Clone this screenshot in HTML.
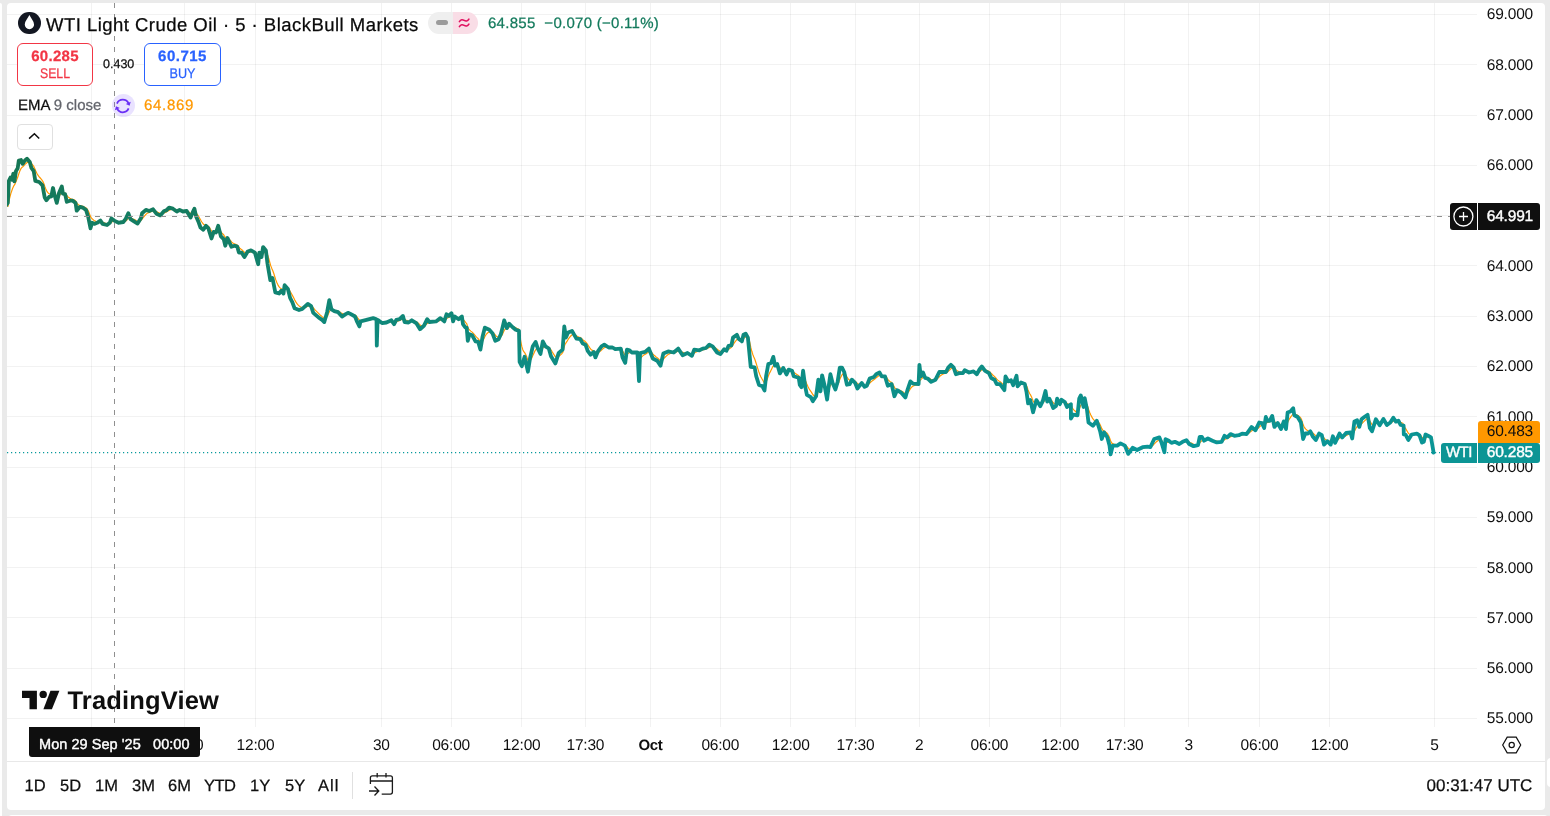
<!DOCTYPE html>
<html><head><meta charset="utf-8">
<style>
*{box-sizing:border-box;margin:0;padding:0}
html,body{width:1550px;height:816px;overflow:hidden;background:#eaeaea;font-family:"Liberation Sans", Arial, sans-serif;color:#0f0f0f}
#root{position:absolute;left:0;top:0;width:1550px;height:816px;will-change:transform;text-rendering:geometricPrecision}
.sk{-webkit-text-stroke:0.25px currentColor}
.sk2{-webkit-text-stroke:0.4px currentColor}
.abs{position:absolute}
#lstrip{position:absolute;left:0;top:3px;width:2px;height:813px;background:#fff;border-top-right-radius:2px}
#panel{position:absolute;left:7px;top:3px;width:1538px;height:806.5px;background:#fff;border-radius:4px;overflow:hidden}
#bpanel{position:absolute;left:8px;top:814.7px;width:1540px;height:10px;background:#fff;border-radius:4px}
#rnub{position:absolute;left:1547px;top:758px;width:8px;height:29px;background:#fff;border-radius:4px}
svg.chart{position:absolute;left:0;top:0}
.g{stroke:rgba(0,0,0,0.052);stroke-width:1}
.pl{position:absolute;left:1478px;width:55px;text-align:right;font-size:15.5px;letter-spacing:-0.2px;line-height:18px;height:18px;color:#0f0f0f}
.tl{position:absolute;top:736.5px;width:80px;text-align:center;font-size:15.5px;letter-spacing:-0.2px;line-height:18px;color:#0f0f0f}
.tl.b{font-weight:bold;font-size:15px;letter-spacing:-0.3px}
.tbi{position:absolute;top:0}
#sep{position:absolute;left:7px;top:761px;width:1538px;height:1px;background:#e8e8e8}
</style></head><body><div id="root">
<div id="lstrip"></div>
<div id="panel"></div>
<div id="bpanel"></div>
<div id="rnub"></div>
<svg class="chart" width="1550" height="816" viewBox="0 0 1550 816">
<defs><clipPath id="pane"><rect x="7" y="3" width="1470" height="724"/></clipPath><linearGradient id="lg" gradientUnits="userSpaceOnUse" x1="0" y1="160" x2="0" y2="455"><stop offset="0" stop-color="#167654"/><stop offset="1" stop-color="#0a9698"/></linearGradient></defs>
<line x1="7" y1="718.5" x2="1477" y2="718.5" class="g"/>
<line x1="7" y1="668.5" x2="1477" y2="668.5" class="g"/>
<line x1="7" y1="617.5" x2="1477" y2="617.5" class="g"/>
<line x1="7" y1="567.5" x2="1477" y2="567.5" class="g"/>
<line x1="7" y1="517.5" x2="1477" y2="517.5" class="g"/>
<line x1="7" y1="467.5" x2="1477" y2="467.5" class="g"/>
<line x1="7" y1="416.5" x2="1477" y2="416.5" class="g"/>
<line x1="7" y1="366.5" x2="1477" y2="366.5" class="g"/>
<line x1="7" y1="316.5" x2="1477" y2="316.5" class="g"/>
<line x1="7" y1="265.5" x2="1477" y2="265.5" class="g"/>
<line x1="7" y1="215.5" x2="1477" y2="215.5" class="g"/>
<line x1="7" y1="165.5" x2="1477" y2="165.5" class="g"/>
<line x1="7" y1="115.5" x2="1477" y2="115.5" class="g"/>
<line x1="7" y1="64.5" x2="1477" y2="64.5" class="g"/>
<line x1="7" y1="14.5" x2="1477" y2="14.5" class="g"/>
<line x1="91.5" y1="3" x2="91.5" y2="727" class="g"/>
<line x1="184.5" y1="3" x2="184.5" y2="727" class="g"/>
<line x1="255.5" y1="3" x2="255.5" y2="727" class="g"/>
<line x1="381.5" y1="3" x2="381.5" y2="727" class="g"/>
<line x1="451.5" y1="3" x2="451.5" y2="727" class="g"/>
<line x1="521.5" y1="3" x2="521.5" y2="727" class="g"/>
<line x1="585.5" y1="3" x2="585.5" y2="727" class="g"/>
<line x1="650.5" y1="3" x2="650.5" y2="727" class="g"/>
<line x1="720.5" y1="3" x2="720.5" y2="727" class="g"/>
<line x1="790.5" y1="3" x2="790.5" y2="727" class="g"/>
<line x1="855.5" y1="3" x2="855.5" y2="727" class="g"/>
<line x1="919.5" y1="3" x2="919.5" y2="727" class="g"/>
<line x1="989.5" y1="3" x2="989.5" y2="727" class="g"/>
<line x1="1060.5" y1="3" x2="1060.5" y2="727" class="g"/>
<line x1="1124.5" y1="3" x2="1124.5" y2="727" class="g"/>
<line x1="1188.5" y1="3" x2="1188.5" y2="727" class="g"/>
<line x1="1259.5" y1="3" x2="1259.5" y2="727" class="g"/>
<line x1="1329.5" y1="3" x2="1329.5" y2="727" class="g"/>
<line x1="1434.5" y1="3" x2="1434.5" y2="727" class="g"/>
<line x1="7" y1="452.7" x2="1440" y2="452.7" stroke="#089a9c" stroke-width="1.2" stroke-dasharray="1.2 2.8"/>
<g clip-path="url(#pane)">
<path d="M7.8,207.0 L8.8,202.2 L9.8,197.5 L10.8,193.6 L11.8,190.8 L12.8,187.9 L13.8,185.8 L14.8,184.4 L15.8,182.0 L16.8,179.5 L17.8,177.1 L18.8,173.8 L19.8,171.1 L20.8,168.9 L21.8,167.5 L22.8,166.7 L23.8,165.8 L24.8,164.7 L25.8,163.7 L26.8,162.8 L27.8,162.2 L28.8,161.9 L29.8,162.0 L30.8,162.7 L31.8,163.9 L32.8,165.1 L33.8,166.4 L34.8,168.7 L35.8,171.1 L36.8,173.2 L37.8,174.9 L38.8,176.3 L39.8,177.5 L40.8,178.7 L41.8,179.9 L42.8,181.3 L43.8,183.5 L44.8,186.4 L45.8,188.9 L46.8,191.1 L47.8,192.6 L48.8,193.5 L49.8,194.1 L50.8,194.6 L51.8,194.5 L52.8,193.4 L53.8,193.0 L54.8,193.6 L55.8,194.7 L56.8,196.4 L57.8,196.8 L58.8,196.2 L59.8,195.2 L60.8,193.9 L61.8,192.4 L62.8,192.5 L63.8,192.8 L64.8,193.0 L65.8,193.9 L66.8,195.5 L67.8,196.7 L68.8,197.6 L69.8,198.2 L70.8,198.7 L71.8,199.1 L72.8,199.4 L73.8,199.8 L74.8,200.3 L75.8,201.1 L76.8,203.0 L77.8,204.3 L78.8,205.1 L79.8,205.5 L80.8,205.8 L81.8,206.1 L82.8,206.4 L83.8,206.8 L84.8,207.3 L85.8,207.8 L86.8,208.7 L87.8,210.1 L88.8,212.0 L89.8,214.6 L90.8,217.1 L91.8,218.5 L92.8,219.4 L93.8,220.3 L94.8,220.9 L95.8,221.4 L96.8,221.7 L97.8,221.8 L98.8,221.8 L99.8,221.6 L100.8,221.6 L101.8,221.8 L102.8,222.2 L103.8,222.6 L104.8,223.0 L105.8,223.3 L106.8,223.6 L107.8,223.8 L108.8,223.8 L109.8,223.6 L110.8,222.9 L111.8,222.0 L112.8,221.5 L113.8,221.3 L114.8,221.2 L115.8,221.2 L116.8,221.4 L117.8,221.6 L118.8,221.8 L119.8,222.0 L120.8,222.0 L121.8,222.1 L122.8,222.1 L123.8,221.9 L124.8,221.6 L125.8,221.0 L126.8,220.1 L127.8,218.9 L128.8,218.0 L129.8,217.9 L130.8,218.2 L131.8,218.6 L132.8,219.0 L133.8,219.4 L134.8,219.9 L135.8,220.4 L136.8,221.0 L137.8,221.4 L138.8,221.5 L139.8,221.2 L140.8,220.6 L141.8,219.4 L142.8,218.1 L143.8,216.8 L144.8,215.6 L145.8,214.5 L146.8,213.6 L147.8,213.0 L148.8,212.6 L149.8,212.2 L150.8,211.8 L151.8,211.4 L152.8,211.0 L153.8,210.9 L154.8,211.0 L155.8,211.4 L156.8,211.9 L157.8,212.4 L158.8,212.8 L159.8,213.3 L160.8,213.6 L161.8,213.6 L162.8,213.4 L163.8,213.0 L164.8,212.6 L165.8,212.2 L166.8,211.7 L167.8,211.1 L168.8,210.5 L169.8,210.0 L170.8,209.6 L171.8,209.3 L172.8,209.2 L173.8,209.2 L174.8,209.4 L175.8,209.7 L176.8,210.0 L177.8,210.2 L178.8,210.2 L179.8,210.2 L180.8,210.3 L181.8,210.4 L182.8,210.6 L183.8,210.8 L184.8,210.9 L185.8,210.9 L186.8,211.0 L187.8,211.3 L188.8,212.0 L189.8,212.8 L190.8,213.7 L191.8,213.9 L192.8,213.5 L193.8,212.8 L194.8,212.4 L195.8,212.9 L196.8,213.9 L197.8,215.2 L198.8,216.7 L199.8,218.5 L200.8,220.3 L201.8,222.0 L202.8,223.4 L203.8,224.5 L204.8,225.1 L205.8,225.3 L206.8,225.6 L207.8,226.0 L208.8,226.8 L209.8,228.0 L210.8,229.7 L211.8,231.3 L212.8,231.9 L213.8,231.9 L214.8,232.0 L215.8,232.1 L216.8,231.7 L217.8,230.7 L218.8,230.2 L219.8,230.6 L220.8,231.6 L221.8,232.8 L222.8,233.8 L223.8,235.0 L224.8,236.7 L225.8,238.2 L226.8,238.6 L227.8,238.6 L228.8,239.1 L229.8,239.9 L230.8,241.0 L231.8,242.1 L232.8,243.0 L233.8,243.6 L234.8,244.0 L235.8,244.4 L236.8,244.8 L237.8,245.6 L238.8,246.9 L239.8,248.1 L240.8,249.0 L241.8,249.8 L242.8,250.7 L243.8,251.8 L244.8,252.7 L245.8,253.1 L246.8,253.1 L247.8,252.8 L248.8,252.4 L249.8,252.1 L250.8,251.8 L251.8,251.6 L252.8,251.6 L253.8,251.6 L254.8,251.8 L255.8,252.6 L256.8,253.9 L257.8,255.7 L258.8,256.1 L259.8,255.6 L260.8,255.6 L261.8,255.6 L262.8,254.2 L263.8,253.0 L264.8,252.2 L265.8,251.8 L266.8,253.0 L267.8,255.5 L268.8,258.7 L269.8,262.4 L270.8,265.9 L271.8,268.4 L272.8,270.7 L273.8,273.5 L274.8,276.7 L275.8,279.9 L276.8,282.5 L277.8,284.6 L278.8,286.4 L279.8,287.6 L280.8,288.4 L281.8,289.0 L282.8,289.7 L283.8,290.0 L284.8,289.1 L285.8,288.6 L286.8,288.4 L287.8,288.5 L288.8,289.3 L289.8,290.8 L290.8,292.5 L291.8,294.2 L292.8,296.1 L293.8,298.1 L294.8,300.1 L295.8,301.9 L296.8,303.3 L297.8,304.6 L298.8,305.6 L299.8,306.5 L300.8,307.0 L301.8,307.4 L302.8,307.6 L303.8,307.6 L304.8,307.4 L305.8,307.1 L306.8,306.6 L307.8,306.1 L308.8,305.8 L309.8,305.7 L310.8,305.7 L311.8,306.2 L312.8,307.2 L313.8,308.4 L314.8,309.6 L315.8,310.7 L316.8,311.7 L317.8,312.7 L318.8,313.7 L319.8,314.7 L320.8,315.5 L321.8,316.4 L322.8,317.2 L323.8,318.1 L324.8,318.5 L325.8,318.2 L326.8,317.2 L327.8,315.4 L328.8,312.9 L329.8,310.8 L330.8,309.9 L331.8,309.8 L332.8,309.9 L333.8,310.1 L334.8,310.3 L335.8,310.6 L336.8,310.8 L337.8,311.1 L338.8,311.5 L339.8,312.0 L340.8,312.6 L341.8,313.4 L342.8,313.9 L343.8,314.2 L344.8,314.3 L345.8,314.3 L346.8,314.1 L347.8,313.9 L348.8,313.7 L349.8,313.7 L350.8,313.8 L351.8,314.0 L352.8,314.2 L353.8,314.6 L354.8,314.9 L355.8,315.6 L356.8,316.7 L357.8,318.0 L358.8,319.4 L359.8,320.5 L360.8,320.6 L361.8,320.7 L362.8,320.7 L363.8,320.7 L364.8,320.6 L365.8,320.5 L366.8,320.3 L367.8,320.2 L368.8,320.0 L369.8,319.8 L370.8,319.6 L371.8,319.3 L372.8,319.1 L373.8,318.9 L374.8,318.9 L375.8,318.9 L376.8,324.3 L377.8,323.4 L378.8,322.9 L379.8,322.6 L380.8,322.5 L381.8,322.6 L382.8,322.7 L383.8,322.7 L384.8,322.7 L385.8,322.7 L386.8,322.6 L387.8,322.5 L388.8,322.3 L389.8,322.0 L390.8,321.7 L391.8,321.6 L392.8,321.7 L393.8,322.1 L394.8,322.3 L395.8,322.0 L396.8,321.5 L397.8,321.1 L398.8,320.8 L399.8,320.4 L400.8,319.9 L401.8,319.3 L402.8,318.7 L403.8,318.8 L404.8,319.4 L405.8,320.0 L406.8,320.4 L407.8,320.8 L408.8,321.1 L409.8,321.2 L410.8,321.2 L411.8,321.0 L412.8,321.0 L413.8,321.1 L414.8,321.3 L415.8,321.6 L416.8,322.1 L417.8,322.8 L418.8,323.7 L419.8,324.7 L420.8,325.5 L421.8,325.9 L422.8,326.1 L423.8,326.1 L424.8,325.6 L425.8,324.9 L426.8,323.9 L427.8,323.1 L428.8,322.8 L429.8,322.6 L430.8,322.5 L431.8,322.3 L432.8,322.2 L433.8,322.1 L434.8,322.0 L435.8,321.9 L436.8,321.6 L437.8,321.3 L438.8,320.9 L439.8,320.4 L440.8,320.0 L441.8,319.9 L442.8,319.9 L443.8,320.1 L444.8,320.1 L445.8,319.4 L446.8,318.4 L447.8,317.8 L448.8,317.4 L449.8,316.9 L450.8,316.3 L451.8,316.0 L452.8,316.7 L453.8,317.3 L454.8,317.1 L455.8,317.1 L456.8,317.3 L457.8,317.6 L458.8,317.9 L459.8,317.9 L460.8,317.8 L461.8,317.6 L462.8,318.6 L463.8,320.0 L464.8,321.3 L465.8,322.6 L466.8,323.8 L467.8,327.2 L468.8,329.1 L469.8,330.2 L470.8,331.1 L471.8,331.9 L472.8,332.8 L473.8,333.9 L474.8,335.1 L475.8,336.4 L476.8,337.4 L477.8,338.3 L478.8,339.5 L479.8,341.1 L480.8,342.3 L481.8,342.1 L482.8,340.8 L483.8,339.0 L484.8,336.8 L485.8,335.0 L486.8,333.7 L487.8,332.8 L488.8,332.2 L489.8,331.8 L490.8,331.7 L491.8,331.9 L492.8,332.4 L493.8,333.3 L494.8,334.5 L495.8,335.7 L496.8,336.6 L497.8,337.2 L498.8,337.5 L499.8,337.3 L500.8,336.7 L501.8,335.4 L502.8,333.6 L503.8,331.3 L504.8,329.5 L505.8,328.6 L506.8,328.4 L507.8,328.0 L508.8,327.2 L509.8,326.7 L510.8,326.4 L511.8,326.4 L512.8,326.6 L513.8,326.9 L514.8,327.3 L515.8,327.8 L516.8,328.3 L517.8,328.7 L518.8,329.2 L519.8,335.8 L520.8,341.5 L521.8,346.4 L522.8,349.7 L523.8,351.7 L524.8,352.9 L525.8,354.7 L526.8,357.1 L527.8,360.0 L528.8,361.2 L529.8,360.9 L530.8,359.7 L531.8,357.9 L532.8,355.6 L533.8,353.4 L534.8,351.3 L535.8,349.6 L536.8,348.8 L537.8,348.7 L538.8,349.1 L539.8,349.8 L540.8,350.3 L541.8,349.6 L542.8,348.0 L543.8,347.0 L544.8,346.6 L545.8,346.6 L546.8,346.7 L547.8,346.9 L548.8,347.2 L549.8,348.2 L550.8,349.7 L551.8,351.2 L552.8,352.8 L553.8,354.4 L554.8,356.0 L555.8,357.2 L556.8,357.6 L557.8,357.2 L558.8,356.3 L559.8,355.5 L560.8,354.6 L561.8,353.7 L562.8,352.4 L563.8,348.5 L564.8,344.8 L565.8,343.2 L566.8,341.7 L567.8,340.0 L568.8,338.4 L569.8,337.1 L570.8,336.0 L571.8,335.0 L572.8,334.4 L573.8,334.4 L574.8,334.6 L575.8,335.2 L576.8,335.9 L577.8,336.5 L578.8,337.0 L579.8,337.4 L580.8,337.9 L581.8,338.7 L582.8,339.7 L583.8,340.6 L584.8,341.3 L585.8,342.2 L586.8,343.4 L587.8,344.9 L588.8,346.4 L589.8,347.9 L590.8,349.2 L591.8,350.1 L592.8,350.6 L593.8,350.9 L594.8,351.8 L595.8,352.7 L596.8,353.0 L597.8,352.7 L598.8,352.2 L599.8,351.5 L600.8,350.7 L601.8,349.8 L602.8,348.9 L603.8,348.1 L604.8,347.5 L605.8,347.1 L606.8,347.0 L607.8,347.0 L608.8,347.1 L609.8,347.2 L610.8,347.2 L611.8,347.3 L612.8,347.4 L613.8,347.5 L614.8,347.8 L615.8,348.1 L616.8,348.3 L617.8,348.4 L618.8,348.5 L619.8,348.5 L620.8,348.5 L621.8,349.6 L622.8,351.3 L623.8,353.0 L624.8,354.8 L625.8,355.5 L626.8,354.5 L627.8,353.6 L628.8,352.9 L629.8,352.4 L630.8,352.2 L631.8,352.3 L632.8,352.3 L633.8,352.4 L634.8,352.4 L635.8,352.4 L636.8,352.4 L637.8,353.9 L638.8,358.6 L639.8,359.0 L640.8,357.8 L641.8,356.8 L642.8,355.9 L643.8,355.1 L644.8,354.5 L645.8,353.9 L646.8,353.2 L647.8,352.5 L648.8,351.7 L649.8,351.5 L650.8,351.9 L651.8,352.7 L652.8,353.9 L653.8,354.9 L654.8,355.8 L655.8,356.7 L656.8,357.4 L657.8,358.3 L658.8,359.2 L659.8,360.3 L660.8,361.1 L661.8,360.9 L662.8,359.9 L663.8,358.6 L664.8,357.5 L665.8,356.5 L666.8,355.6 L667.8,354.8 L668.8,354.1 L669.8,353.6 L670.8,353.3 L671.8,353.1 L672.8,352.9 L673.8,352.8 L674.8,352.6 L675.8,352.2 L676.8,351.7 L677.8,351.2 L678.8,350.8 L679.8,350.9 L680.8,351.2 L681.8,351.8 L682.8,352.4 L683.8,352.9 L684.8,353.1 L685.8,353.3 L686.8,353.3 L687.8,353.3 L688.8,353.4 L689.8,353.6 L690.8,353.9 L691.8,354.3 L692.8,354.1 L693.8,353.4 L694.8,352.7 L695.8,352.1 L696.8,351.7 L697.8,351.4 L698.8,351.2 L699.8,350.9 L700.8,350.7 L701.8,350.3 L702.8,350.0 L703.8,349.7 L704.8,349.4 L705.8,349.1 L706.8,348.7 L707.8,348.2 L708.8,347.6 L709.8,347.1 L710.8,346.8 L711.8,346.6 L712.8,346.6 L713.8,346.9 L714.8,347.4 L715.8,348.1 L716.8,348.9 L717.8,349.7 L718.8,350.4 L719.8,351.1 L720.8,351.6 L721.8,351.7 L722.8,351.6 L723.8,351.2 L724.8,350.9 L725.8,350.8 L726.8,350.6 L727.8,350.0 L728.8,349.2 L729.8,348.4 L730.8,347.8 L731.8,346.9 L732.8,345.3 L733.8,343.6 L734.8,342.2 L735.8,340.8 L736.8,339.6 L737.8,339.1 L738.8,339.0 L739.8,339.2 L740.8,339.4 L741.8,339.8 L742.8,339.4 L743.8,338.4 L744.8,337.6 L745.8,336.8 L746.8,336.6 L747.8,336.8 L748.8,338.8 L749.8,342.5 L750.8,347.4 L751.8,351.3 L752.8,354.5 L753.8,357.0 L754.8,359.3 L755.8,362.3 L756.8,365.4 L757.8,368.6 L758.8,371.7 L759.8,374.4 L760.8,376.7 L761.8,378.5 L762.8,380.2 L763.8,382.0 L764.8,383.2 L765.8,382.3 L766.8,380.3 L767.8,377.6 L768.8,374.8 L769.8,372.6 L770.8,370.7 L771.8,368.7 L772.8,366.6 L773.8,365.2 L774.8,365.1 L775.8,365.1 L776.8,364.9 L777.8,365.2 L778.8,366.0 L779.8,367.4 L780.8,368.3 L781.8,368.7 L782.8,368.7 L783.8,368.8 L784.8,369.2 L785.8,370.0 L786.8,370.8 L787.8,370.9 L788.8,370.7 L789.8,370.5 L790.8,370.5 L791.8,370.5 L792.8,371.0 L793.8,372.1 L794.8,373.0 L795.8,373.7 L796.8,374.4 L797.8,375.1 L798.8,375.7 L799.8,377.6 L800.8,379.3 L801.8,380.1 L802.8,378.8 L803.8,378.3 L804.8,379.3 L805.8,381.4 L806.8,384.0 L807.8,386.3 L808.8,388.2 L809.8,389.9 L810.8,391.3 L811.8,392.9 L812.8,394.5 L813.8,395.6 L814.8,396.1 L815.8,396.2 L816.8,395.2 L817.8,392.8 L818.8,390.7 L819.8,390.1 L820.8,389.7 L821.8,387.4 L822.8,385.6 L823.8,384.9 L824.8,385.3 L825.8,386.7 L826.8,389.0 L827.8,389.9 L828.8,389.1 L829.8,386.9 L830.8,384.7 L831.8,383.7 L832.8,383.7 L833.8,384.1 L834.8,384.9 L835.8,385.6 L836.8,385.4 L837.8,384.4 L838.8,382.4 L839.8,379.4 L840.8,377.1 L841.8,375.2 L842.8,374.0 L843.8,373.4 L844.8,373.7 L845.8,374.9 L846.8,376.7 L847.8,378.3 L848.8,379.5 L849.8,380.4 L850.8,380.7 L851.8,380.5 L852.8,380.5 L853.8,380.8 L854.8,381.1 L855.8,381.8 L856.8,382.8 L857.8,383.9 L858.8,384.4 L859.8,384.6 L860.8,384.6 L861.8,384.2 L862.8,384.3 L863.8,384.6 L864.8,385.0 L865.8,385.3 L866.8,385.4 L867.8,385.0 L868.8,384.1 L869.8,383.0 L870.8,382.0 L871.8,381.2 L872.8,380.4 L873.8,379.7 L874.8,379.0 L875.8,378.1 L876.8,377.3 L877.8,376.5 L878.8,375.8 L879.8,375.2 L880.8,375.1 L881.8,375.4 L882.8,375.6 L883.8,375.8 L884.8,375.9 L885.8,376.5 L886.8,377.7 L887.8,379.3 L888.8,380.5 L889.8,381.4 L890.8,382.0 L891.8,382.6 L892.8,383.9 L893.8,385.9 L894.8,387.8 L895.8,388.8 L896.8,389.2 L897.8,389.5 L898.8,389.9 L899.8,390.3 L900.8,390.7 L901.8,391.2 L902.8,391.8 L903.8,392.6 L904.8,393.4 L905.8,393.9 L906.8,393.6 L907.8,392.7 L908.8,391.4 L909.8,389.7 L910.8,388.1 L911.8,387.0 L912.8,386.3 L913.8,385.8 L914.8,385.4 L915.8,385.1 L916.8,384.8 L917.8,384.7 L918.8,383.6 L919.8,380.5 L920.8,379.7 L921.8,378.7 L922.8,377.5 L923.8,376.9 L924.8,376.9 L925.8,377.2 L926.8,377.4 L927.8,377.6 L928.8,378.0 L929.8,378.5 L930.8,379.2 L931.8,379.6 L932.8,379.9 L933.8,380.0 L934.8,380.0 L935.8,379.9 L936.8,379.3 L937.8,378.4 L938.8,377.4 L939.8,376.3 L940.8,375.4 L941.8,374.7 L942.8,374.2 L943.8,373.8 L944.8,373.4 L945.8,373.1 L946.8,372.6 L947.8,371.7 L948.8,370.8 L949.8,369.8 L950.8,368.8 L951.8,368.2 L952.8,367.9 L953.8,367.9 L954.8,368.5 L955.8,369.6 L956.8,370.4 L957.8,371.1 L958.8,371.5 L959.8,371.8 L960.8,372.1 L961.8,372.3 L962.8,372.4 L963.8,372.3 L964.8,371.9 L965.8,371.7 L966.8,371.6 L967.8,371.7 L968.8,371.8 L969.8,371.9 L970.8,371.9 L971.8,371.9 L972.8,371.9 L973.8,371.8 L974.8,372.0 L975.8,372.2 L976.8,372.6 L977.8,372.6 L978.8,372.2 L979.8,371.5 L980.8,370.8 L981.8,369.9 L982.8,369.5 L983.8,369.4 L984.8,369.7 L985.8,370.0 L986.8,370.4 L987.8,370.8 L988.8,371.2 L989.8,371.9 L990.8,373.0 L991.8,374.0 L992.8,375.0 L993.8,375.9 L994.8,376.8 L995.8,377.9 L996.8,379.1 L997.8,380.1 L998.8,380.9 L999.8,381.5 L1000.8,382.3 L1001.8,383.1 L1002.8,384.1 L1003.8,385.2 L1004.8,385.2 L1005.8,383.5 L1006.8,382.6 L1007.8,382.1 L1008.8,382.0 L1009.8,381.7 L1010.8,381.5 L1011.8,381.6 L1012.8,382.1 L1013.8,382.4 L1014.8,382.0 L1015.8,381.2 L1016.8,380.7 L1017.8,381.8 L1018.8,382.4 L1019.8,382.7 L1020.8,382.7 L1021.8,382.7 L1022.8,382.8 L1023.8,383.0 L1024.8,383.2 L1025.8,384.3 L1026.8,386.2 L1027.8,389.2 L1028.8,391.9 L1029.8,393.7 L1030.8,395.4 L1031.8,397.6 L1032.8,400.3 L1033.8,402.1 L1034.8,402.9 L1035.8,402.8 L1036.8,402.4 L1037.8,402.4 L1038.8,402.7 L1039.8,403.2 L1040.8,403.6 L1041.8,403.5 L1042.8,403.0 L1043.8,401.8 L1044.8,400.2 L1045.8,398.7 L1046.8,398.8 L1047.8,399.2 L1048.8,399.2 L1049.8,399.3 L1050.8,399.9 L1051.8,400.8 L1052.8,402.1 L1053.8,403.2 L1054.8,403.9 L1055.8,404.4 L1056.8,403.6 L1057.8,402.9 L1058.8,402.7 L1059.8,403.0 L1060.8,402.7 L1061.8,402.2 L1062.8,401.9 L1063.8,401.8 L1064.8,401.8 L1065.8,402.3 L1066.8,403.2 L1067.8,403.8 L1068.8,404.2 L1069.8,404.3 L1070.8,404.3 L1071.8,406.9 L1072.8,408.5 L1073.8,409.8 L1074.8,410.8 L1075.8,411.7 L1076.8,412.4 L1077.8,412.4 L1078.8,410.4 L1079.8,407.8 L1080.8,405.3 L1081.8,404.2 L1082.8,404.1 L1083.8,404.3 L1084.8,403.2 L1085.8,403.3 L1086.8,404.4 L1087.8,406.8 L1088.8,410.0 L1089.8,412.7 L1090.8,415.0 L1091.8,416.9 L1092.8,418.7 L1093.8,419.9 L1094.8,420.5 L1095.8,420.9 L1096.8,420.8 L1097.8,421.5 L1098.8,422.6 L1099.8,424.1 L1100.8,426.2 L1101.8,428.7 L1102.8,430.2 L1103.8,430.8 L1104.8,431.3 L1105.8,432.1 L1106.8,433.0 L1107.8,434.2 L1108.8,436.0 L1109.8,438.4 L1110.8,441.4 L1111.8,443.1 L1112.8,443.6 L1113.8,444.0 L1114.8,444.3 L1115.8,444.6 L1116.8,444.8 L1117.8,444.9 L1118.8,444.8 L1119.8,444.6 L1120.8,444.4 L1121.8,444.3 L1122.8,444.4 L1123.8,444.5 L1124.8,444.7 L1125.8,445.3 L1126.8,446.4 L1127.8,447.7 L1128.8,448.7 L1129.8,449.3 L1130.8,449.5 L1131.8,449.4 L1132.8,449.1 L1133.8,449.0 L1134.8,448.9 L1135.8,449.0 L1136.8,449.2 L1137.8,449.3 L1138.8,449.3 L1139.8,449.1 L1140.8,448.9 L1141.8,448.7 L1142.8,448.4 L1143.8,448.1 L1144.8,447.9 L1145.8,447.7 L1146.8,447.5 L1147.8,447.3 L1148.8,447.3 L1149.8,447.2 L1150.8,447.0 L1151.8,446.4 L1152.8,445.5 L1153.8,444.4 L1154.8,443.3 L1155.8,442.3 L1156.8,441.5 L1157.8,440.8 L1158.8,440.1 L1159.8,439.8 L1160.8,440.0 L1161.8,440.7 L1162.8,442.0 L1163.8,443.6 L1164.8,444.4 L1165.8,443.4 L1166.8,442.6 L1167.8,442.2 L1168.8,441.9 L1169.8,441.8 L1170.8,441.9 L1171.8,442.1 L1172.8,442.2 L1173.8,442.2 L1174.8,442.1 L1175.8,442.1 L1176.8,442.3 L1177.8,442.5 L1178.8,442.7 L1179.8,442.9 L1180.8,442.9 L1181.8,442.8 L1182.8,442.6 L1183.8,442.3 L1184.8,442.0 L1185.8,441.7 L1186.8,441.5 L1187.8,441.6 L1188.8,442.0 L1189.8,442.5 L1190.8,442.9 L1191.8,443.4 L1192.8,443.9 L1193.8,444.3 L1194.8,444.6 L1195.8,444.8 L1196.8,445.0 L1197.8,445.0 L1198.8,444.2 L1199.8,442.8 L1200.8,441.6 L1201.8,440.7 L1202.8,440.2 L1203.8,440.2 L1204.8,440.2 L1205.8,440.1 L1206.8,439.9 L1207.8,439.7 L1208.8,439.5 L1209.8,439.5 L1210.8,439.6 L1211.8,439.7 L1212.8,440.0 L1213.8,440.2 L1214.8,440.5 L1215.8,440.8 L1216.8,441.1 L1217.8,441.4 L1218.8,441.5 L1219.8,441.6 L1220.8,441.7 L1221.8,441.7 L1222.8,441.2 L1223.8,440.4 L1224.8,439.5 L1225.8,438.9 L1226.8,438.6 L1227.8,438.2 L1228.8,437.7 L1229.8,437.2 L1230.8,436.6 L1231.8,436.2 L1232.8,436.0 L1233.8,435.9 L1234.8,435.9 L1235.8,435.8 L1236.8,435.7 L1237.8,435.7 L1238.8,435.6 L1239.8,435.4 L1240.8,435.2 L1241.8,434.9 L1242.8,434.6 L1243.8,434.5 L1244.8,434.4 L1245.8,434.3 L1246.8,434.2 L1247.8,433.8 L1248.8,433.2 L1249.8,432.4 L1250.8,431.5 L1251.8,430.7 L1252.8,430.2 L1253.8,429.9 L1254.8,429.9 L1255.8,429.8 L1256.8,429.3 L1257.8,428.5 L1258.8,427.5 L1259.8,426.5 L1260.8,425.8 L1261.8,425.2 L1262.8,425.2 L1263.8,425.6 L1264.8,425.2 L1265.8,423.6 L1266.8,422.7 L1267.8,422.4 L1268.8,422.1 L1269.8,421.8 L1270.8,421.2 L1271.8,420.3 L1272.8,420.0 L1273.8,420.8 L1274.8,421.9 L1275.8,422.6 L1276.8,422.9 L1277.8,422.9 L1278.8,423.4 L1279.8,424.1 L1280.8,425.0 L1281.8,425.4 L1282.8,425.1 L1283.8,424.4 L1284.8,424.5 L1285.8,425.3 L1286.8,424.4 L1287.8,422.0 L1288.8,420.0 L1289.8,418.4 L1290.8,416.9 L1291.8,415.5 L1292.8,414.1 L1293.8,413.7 L1294.8,414.1 L1295.8,414.5 L1296.8,414.9 L1297.8,415.4 L1298.8,416.1 L1299.8,417.0 L1300.8,418.1 L1301.8,420.3 L1302.8,423.6 L1303.8,426.3 L1304.8,428.0 L1305.8,429.1 L1306.8,430.0 L1307.8,430.7 L1308.8,431.1 L1309.8,431.2 L1310.8,431.5 L1311.8,432.0 L1312.8,432.9 L1313.8,433.9 L1314.8,434.9 L1315.8,435.9 L1316.8,436.4 L1317.8,436.3 L1318.8,435.9 L1319.8,435.5 L1320.8,435.3 L1321.8,435.3 L1322.8,436.1 L1323.8,437.6 L1324.8,438.9 L1325.8,439.7 L1326.8,440.1 L1327.8,440.4 L1328.8,440.8 L1329.8,441.4 L1330.8,442.0 L1331.8,441.7 L1332.8,440.7 L1333.8,440.3 L1334.8,440.7 L1335.8,440.8 L1336.8,440.5 L1337.8,439.8 L1338.8,438.9 L1339.8,437.9 L1340.8,437.4 L1341.8,437.3 L1342.8,437.2 L1343.8,436.8 L1344.8,436.4 L1345.8,435.8 L1346.8,435.2 L1347.8,434.7 L1348.8,434.3 L1349.8,433.9 L1350.8,433.8 L1351.8,434.5 L1352.8,434.4 L1353.8,432.7 L1354.8,430.4 L1355.8,428.5 L1356.8,426.9 L1357.8,426.0 L1358.8,425.9 L1359.8,425.7 L1360.8,424.9 L1361.8,423.7 L1362.8,422.6 L1363.8,421.6 L1364.8,420.6 L1365.8,419.7 L1366.8,418.8 L1367.8,418.2 L1368.8,419.0 L1369.8,420.8 L1370.8,422.5 L1371.8,424.2 L1372.8,425.1 L1373.8,425.3 L1374.8,424.7 L1375.8,423.7 L1376.8,423.1 L1377.8,422.9 L1378.8,423.1 L1379.8,423.5 L1380.8,423.5 L1381.8,423.1 L1382.8,422.5 L1383.8,421.9 L1384.8,421.8 L1385.8,422.1 L1386.8,422.6 L1387.8,423.0 L1388.8,423.1 L1389.8,423.1 L1390.8,422.8 L1391.8,422.2 L1392.8,421.5 L1393.8,420.9 L1394.8,420.7 L1395.8,420.9 L1396.8,420.9 L1397.8,420.9 L1398.8,421.0 L1399.8,421.5 L1400.8,422.2 L1401.8,422.8 L1402.8,423.3 L1403.8,425.6 L1404.8,427.4 L1405.8,428.9 L1406.8,430.6 L1407.8,432.3 L1408.8,433.6 L1409.8,434.4 L1410.8,434.7 L1411.8,434.7 L1412.8,434.6 L1413.8,434.5 L1414.8,434.4 L1415.8,434.3 L1416.8,434.1 L1417.8,434.2 L1418.8,434.3 L1419.8,434.7 L1420.8,435.6 L1421.8,436.8 L1422.8,437.9 L1423.8,438.7 L1424.8,438.5 L1425.8,437.7 L1426.8,437.2 L1427.8,436.9 L1428.8,436.7 L1429.8,436.7 L1430.8,436.9 L1431.8,437.9 L1432.8,439.9" fill="none" stroke="#ff9800" stroke-width="1.2" stroke-linejoin="round"/>
<path d="M4.5,207.5 L7.8,202.9 L8.9,180.9 L10.5,177.6 L12.2,179.8 L13.3,173.7 L14.4,181.4 L16.0,171.0 L17.7,168.2 L18.8,160.5 L21.0,160.0 L22.6,163.8 L24.9,160.5 L27.0,158.8 L29.8,162.1 L31.5,168.2 L33.7,171.0 L35.3,180.9 L39.2,182.0 L42.5,185.3 L44.7,197.4 L46.4,200.2 L49.1,196.9 L51.3,196.3 L53.0,188.0 L54.6,195.2 L56.8,202.9 L59.0,193.0 L61.8,186.4 L62.9,193.6 L65.1,194.1 L66.8,201.8 L70.1,200.7 L72.8,200.7 L75.6,202.9 L76.7,210.7 L80.0,206.8 L83.3,207.9 L86.1,210.1 L88.3,217.3 L90.5,228.3 L92.1,222.8 L94.3,223.9 L97.1,222.8 L100.4,220.6 L102.6,223.9 L107.0,225.0 L109.8,222.8 L111.4,218.4 L114.2,220.6 L118.6,222.8 L120.0,222.5 L123.3,222.0 L125.5,219.2 L128.3,213.2 L130.5,219.2 L133.2,220.9 L137.6,223.6 L141.0,218.1 L142.1,213.2 L145.9,209.9 L149.2,211.0 L153.1,209.3 L156.4,213.7 L160.3,215.4 L164.1,211.0 L166.3,210.4 L169.1,207.6 L172.9,208.7 L176.8,211.5 L179.6,209.9 L182.9,211.5 L186.7,211.0 L190.6,217.6 L192.8,212.1 L194.4,208.7 L196.1,216.5 L198.3,221.4 L200.5,227.5 L203.3,229.7 L206.0,225.8 L208.2,228.0 L211.5,238.5 L213.7,231.9 L216.0,232.5 L218.2,225.8 L220.9,236.3 L223.7,239.1 L225.3,245.7 L227.5,238.0 L231.4,246.8 L234.7,245.7 L237.2,246.6 L238.9,252.6 L241.6,252.6 L244.4,257.1 L247.7,251.5 L251.0,250.4 L254.9,252.6 L258.2,264.2 L259.3,252.6 L261.5,257.1 L263.1,247.1 L265.9,250.4 L267.5,263.7 L270.3,280.2 L272.5,278.0 L275.3,292.4 L279.1,293.5 L281.3,290.7 L283.5,293.5 L284.6,285.2 L287.9,289.0 L290.1,297.9 L292.4,302.3 L294.6,308.3 L299.0,310.0 L302.3,308.9 L307.8,303.9 L311.1,306.1 L313.3,312.8 L318.8,317.7 L322.1,319.9 L324.3,322.1 L327.1,312.2 L329.3,300.1 L331.5,309.4 L334.3,311.1 L338.1,312.2 L342.0,316.6 L345.3,314.4 L348.0,312.8 L350.0,313.7 L355.0,316.5 L357.2,322.0 L359.4,326.4 L360.5,321.4 L366.5,319.8 L373.2,318.1 L376.5,319.2 L376.8,345.7 L377.6,319.8 L382.0,323.1 L386.4,322.5 L391.4,320.3 L394.1,324.2 L396.3,319.8 L399.6,319.2 L402.9,315.9 L404.6,322.0 L408.5,322.5 L411.8,320.3 L416.2,323.1 L420.0,329.2 L423.9,325.8 L427.2,319.2 L429.4,322.0 L436.0,321.4 L440.4,318.1 L444.3,321.4 L446.5,314.3 L448.7,315.9 L451.5,313.2 L453.1,321.4 L454.8,316.5 L458.6,319.2 L461.9,316.5 L463.0,324.2 L465.3,327.5 L466.7,327.6 L467.8,340.8 L469.4,334.2 L472.2,335.3 L475.5,341.4 L478.2,341.9 L480.4,349.6 L482.6,336.4 L484.9,327.6 L489.3,329.8 L492.6,333.6 L495.3,340.8 L498.6,339.2 L500.8,334.2 L502.5,327.6 L504.2,320.4 L506.9,328.1 L509.1,323.7 L512.4,327.0 L515.7,329.8 L519.0,330.9 L519.6,361.8 L521.8,366.2 L524.6,356.8 L527.9,371.7 L530.1,357.9 L532.8,346.3 L535.6,341.9 L537.8,348.5 L540.5,354.0 L542.8,341.4 L545.5,346.3 L548.8,348.5 L551.0,356.2 L555.4,363.4 L558.7,352.9 L562.6,349.6 L564.3,326.5 L565.9,337.5 L568.1,332.5 L572.0,330.9 L576.4,338.6 L580.3,339.2 L582.8,343.6 L585.5,344.7 L587.7,350.8 L590.5,354.7 L593.8,351.9 L595.4,357.4 L598.2,350.8 L601.5,346.4 L604.3,344.7 L608.7,347.5 L612.5,347.5 L615.3,349.2 L620.8,348.6 L622.5,357.4 L625.2,362.9 L626.9,349.7 L629.6,350.3 L631.8,352.5 L637.4,352.5 L639.0,381.1 L640.1,353.0 L645.1,351.9 L648.9,348.6 L652.8,358.5 L657.2,360.7 L660.5,365.7 L663.3,353.6 L668.2,351.4 L673.7,352.5 L678.2,348.6 L682.6,355.2 L687.5,353.0 L691.9,355.8 L694.2,349.7 L699.4,350.3 L702.7,348.6 L706.0,348.0 L709.3,344.7 L712.6,346.4 L717.1,352.5 L720.4,354.1 L724.2,349.2 L726.4,350.8 L728.6,345.8 L731.4,345.3 L733.0,337.6 L736.9,334.8 L738.6,338.7 L741.9,341.4 L743.5,334.8 L745.7,333.7 L747.9,337.6 L749.6,355.2 L750.7,366.8 L754.6,367.4 L756.2,376.2 L759.0,385.0 L762.3,386.1 L764.5,390.5 L766.1,376.2 L768.3,364.0 L771.1,362.9 L773.3,356.9 L775.0,365.7 L777.2,364.0 L779.9,373.4 L783.2,367.9 L786.5,374.5 L788.7,369.6 L792.1,370.7 L793.7,376.2 L798.7,377.8 L799.8,385.0 L801.4,387.2 L803.1,370.7 L805.3,387.2 L806.9,394.9 L810.8,397.1 L812.8,401.2 L816.1,396.2 L818.3,379.7 L820.5,391.3 L822.1,375.3 L824.3,384.1 L827.1,399.6 L828.7,386.3 L830.4,374.2 L832.6,383.0 L835.4,389.6 L837.6,381.9 L839.8,367.6 L842.0,367.6 L844.2,372.0 L846.9,384.7 L849.7,384.1 L851.9,379.7 L855.2,383.0 L857.4,388.5 L859.1,386.3 L861.8,383.0 L864.6,386.9 L866.8,385.8 L869.6,378.6 L874.0,376.9 L876.2,374.2 L879.5,372.5 L881.7,376.4 L885.0,376.4 L887.8,385.8 L891.6,384.1 L894.4,396.2 L897.1,390.2 L901.5,392.9 L905.4,397.4 L907.6,389.6 L910.4,381.4 L913.1,383.6 L918.6,384.1 L919.4,364.8 L920.8,376.4 L923.0,372.5 L925.2,378.0 L927.8,378.6 L931.1,381.9 L935.5,379.7 L939.3,372.0 L942.6,372.0 L946.0,372.0 L948.2,367.6 L950.9,364.8 L953.7,367.6 L955.9,374.2 L959.2,373.1 L963.0,373.1 L964.7,370.3 L969.1,372.5 L973.5,371.4 L976.8,374.2 L979.6,369.2 L981.8,366.5 L985.1,370.9 L989.0,373.1 L991.2,378.0 L994.5,379.7 L996.7,384.1 L1000.0,384.1 L1004.4,390.2 L1005.5,376.4 L1008.3,381.4 L1011.0,380.3 L1013.2,385.2 L1016.5,375.8 L1017.6,386.3 L1021.0,382.5 L1024.8,384.1 L1026.5,391.8 L1028.1,403.4 L1030.3,400.1 L1033.1,412.2 L1036.4,400.1 L1040.3,406.2 L1042.8,400.9 L1045.5,391.0 L1047.2,401.5 L1049.4,398.7 L1053.2,408.1 L1056.0,405.9 L1057.1,398.7 L1059.9,404.2 L1061.5,399.8 L1064.8,402.0 L1067.0,407.0 L1070.9,404.2 L1070.9,418.6 L1073.1,414.7 L1077.5,415.3 L1079.2,398.7 L1080.8,395.4 L1083.6,407.0 L1084.7,398.2 L1086.9,409.2 L1088.5,422.4 L1092.9,425.7 L1096.8,420.8 L1100.1,431.2 L1101.8,439.0 L1104.0,432.4 L1107.3,437.3 L1109.5,445.6 L1110.6,454.4 L1112.8,445.6 L1117.2,445.6 L1120.5,443.4 L1124.9,445.6 L1128.2,453.9 L1132.6,447.8 L1137.1,450.0 L1142.6,447.2 L1147.5,446.7 L1150.3,447.2 L1154.2,439.0 L1159.4,437.4 L1161.6,442.9 L1164.4,452.3 L1165.5,439.1 L1168.8,440.7 L1171.5,442.9 L1174.9,441.8 L1179.3,444.0 L1182.6,441.8 L1186.4,440.2 L1189.2,444.0 L1193.6,446.2 L1198.0,445.1 L1199.7,436.9 L1201.9,436.9 L1204.1,440.7 L1207.9,438.5 L1212.4,440.7 L1216.8,442.4 L1221.7,441.8 L1224.5,435.8 L1227.2,437.4 L1230.5,434.1 L1234.4,435.8 L1238.8,435.2 L1242.1,433.6 L1246.5,434.1 L1251.5,427.0 L1255.4,430.3 L1259.2,422.5 L1262.0,423.1 L1264.2,428.0 L1265.8,417.0 L1267.5,420.9 L1269.7,420.9 L1272.2,415.9 L1274.4,426.9 L1277.7,423.0 L1281.0,429.1 L1283.8,421.4 L1286.0,429.1 L1287.6,412.6 L1290.4,411.5 L1293.2,408.2 L1294.3,415.3 L1297.6,417.0 L1300.9,422.5 L1303.1,439.0 L1305.3,433.5 L1308.0,433.5 L1310.3,431.3 L1313.0,436.8 L1315.8,440.1 L1319.1,433.5 L1321.8,435.2 L1324.0,444.6 L1327.4,441.2 L1330.7,444.6 L1332.9,436.3 L1335.1,442.9 L1339.5,433.5 L1342.2,437.4 L1346.1,433.0 L1350.5,432.4 L1352.2,438.5 L1354.4,421.4 L1357.1,420.3 L1359.3,426.9 L1361.5,419.2 L1364.3,417.0 L1367.6,414.8 L1369.8,428.0 L1372.0,431.3 L1375.9,419.2 L1379.7,425.3 L1383.4,419.0 L1386.9,425.0 L1390.3,422.5 L1393.3,417.7 L1395.9,421.6 L1398.4,420.7 L1400.6,425.0 L1403.6,425.5 L1403.8,434.5 L1405.7,434.9 L1408.3,440.0 L1411.7,434.5 L1416.9,433.6 L1419.5,435.3 L1422.0,442.6 L1423.8,441.8 L1425.5,434.5 L1428.0,435.7 L1431.0,437.5 L1433.6,452.6" fill="none" stroke="url(#lg)" stroke-width="3.8" stroke-linejoin="round" stroke-linecap="round"/></g>
<line x1="114.5" y1="3" x2="114.5" y2="727" stroke="#8f8f8f" stroke-width="1" stroke-dasharray="5 6"/>
<line x1="7" y1="216.5" x2="1450" y2="216.5" stroke="#8f8f8f" stroke-width="1" stroke-dasharray="5 6"/>
</svg>
<div class="pl" style="top:710.4px">55.000</div><div class="pl" style="top:660.1px">56.000</div><div class="pl" style="top:609.8px">57.000</div><div class="pl" style="top:559.5px">58.000</div><div class="pl" style="top:509.3px">59.000</div><div class="pl" style="top:459.0px">60.000</div><div class="pl" style="top:408.7px">61.000</div><div class="pl" style="top:358.4px">62.000</div><div class="pl" style="top:308.1px">63.000</div><div class="pl" style="top:257.8px">64.000</div><div class="pl" style="top:207.5px">65.000</div><div class="pl" style="top:157.3px">66.000</div><div class="pl" style="top:107.0px">67.000</div><div class="pl" style="top:56.7px">68.000</div><div class="pl" style="top:6.4px">69.000</div>
<div class="tl" style="left:144.6px">06:00</div><div class="tl" style="left:215.5px">12:00</div><div class="tl" style="left:341.3px">30</div><div class="tl" style="left:411.1px">06:00</div><div class="tl" style="left:481.6px">12:00</div><div class="tl" style="left:545.4px">17:30</div><div class="tl b" style="left:610.5px">Oct</div><div class="tl" style="left:680.3px">06:00</div><div class="tl" style="left:750.7px">12:00</div><div class="tl" style="left:815.5px">17:30</div><div class="tl" style="left:879.3px">2</div><div class="tl" style="left:949.4px">06:00</div><div class="tl" style="left:1020.2px">12:00</div><div class="tl" style="left:1084.6px">17:30</div><div class="tl" style="left:1148.8px">3</div><div class="tl" style="left:1219.5px">06:00</div><div class="tl" style="left:1289.6px">12:00</div><div class="tl" style="left:1394.4px">5</div>
<div id="sep"></div>

<div class="abs" style="left:18px;top:11.8px;width:22.5px;height:22.5px;border-radius:50%;background:#131722"></div>
<svg class="abs" style="left:18px;top:12px" width="23" height="23" viewBox="0 0 23 23"><path d="M11.4 3 C10 6 6.75 9.2 6.75 12.6 C6.75 15.2 8.8 17.2 11.4 17.2 C14 17.2 16.05 15.2 16.05 12.6 C16.05 9.2 12.8 6 11.4 3 Z" fill="#fff"/></svg>
<div id="title" class="abs sk" style="left:46px;top:13.6px;font-size:18.5px;letter-spacing:0.47px;line-height:21px;white-space:nowrap;color:#0a0a0a">WTI Light Crude Oil · 5 · BlackBull Markets</div>
<div class="abs" style="left:428px;top:12px;width:25px;height:22px;background:#efefef;border-radius:11px 0 0 11px"></div>
<div class="abs" style="left:453px;top:12px;width:25px;height:22px;background:#f9dde6;border-radius:0 11px 11px 0"></div>
<div class="abs" style="left:436px;top:20px;width:12px;height:5px;background:#9b9b9b;border-radius:2.5px"></div>
<svg class="abs" style="left:458px;top:17px" width="13" height="12" viewBox="0 0 13 12"><path d="M1.4 4.6 C2.8 2.2 4.6 2.4 6.2 3.4 C7.8 4.4 9.6 4.2 10.9 2.1 M1.4 9.6 C2.8 7.2 4.6 7.4 6.2 8.4 C7.8 9.4 9.6 9.2 10.9 7.1" fill="none" stroke="#e0115f" stroke-width="1.6" stroke-linecap="round"/></svg>
<div id="vals" class="abs sk" style="left:488px;top:15px;font-size:15px;letter-spacing:0.27px;line-height:18px;white-space:nowrap;color:#137a5c">64.855&nbsp; −0.070 (−0.11%)</div>

<div class="abs" style="left:17px;top:43px;width:76px;height:43px;border:1px solid #f23645;border-radius:6px;background:#fff"></div>
<div id="sellp" class="abs sk" style="left:17px;top:47.6px;width:76px;text-align:center;font-size:15px;letter-spacing:0.3px;line-height:17px;font-weight:bold;color:#f23645">60.285</div>
<div id="sellt" class="abs sk" style="left:17px;top:65px;width:76px;text-align:center;font-size:14px;transform:scaleX(0.88);line-height:16px;color:#f23645">SELL</div>
<div id="spread" class="abs sk" style="left:103px;top:57px;font-size:12.5px;line-height:15px;color:#0f0f0f">0.430</div>
<div class="abs" style="left:144px;top:43px;width:77px;height:43px;border:1px solid #2962ff;border-radius:6px;background:#fff"></div>
<div id="buyp" class="abs sk" style="left:144px;top:47.6px;width:77px;text-align:center;font-size:15px;letter-spacing:0.5px;line-height:17px;font-weight:bold;color:#2962ff">60.715</div>
<div id="buyt" class="abs sk" style="left:144px;top:65px;width:77px;text-align:center;font-size:14px;transform:scaleX(0.9);line-height:16px;color:#2962ff">BUY</div>

<div id="ema" class="abs sk" style="left:18px;top:97px;font-size:15px;line-height:18px;white-space:nowrap;color:#0f0f0f">EMA <span style="color:#62646b">9 close</span></div>
<div class="abs" style="left:112.2px;top:93.5px;width:23px;height:23px;border-radius:50%;background:rgba(105,60,255,0.15)"></div>
<svg class="abs" style="left:112px;top:94px" width="22" height="22" viewBox="0 0 22 22"><path d="M5.00 9.54 A6.3 6.3 0 0 1 16.51 9.34 M16.60 14.46 A6.3 6.3 0 0 1 5.09 14.66" fill="none" stroke="#6a2ff5" stroke-width="1.8"/><path d="M17.61 11.69 L18.70 7.65 L13.81 9.93 Z M3.99 12.31 L2.90 16.35 L7.79 14.07 Z" fill="#6a2ff5"/></svg>
<div id="emav" class="abs sk" style="left:144px;top:97px;font-size:15px;letter-spacing:0.7px;line-height:18px;white-space:nowrap;color:#ff9800">64.869</div>
<div class="abs" style="left:17px;top:124px;width:36px;height:26px;border:1px solid #e0e0e0;border-radius:4px;background:#fff"></div>
<svg class="abs" style="left:17px;top:124px" width="36" height="26" viewBox="0 0 36 26"><path d="M12.1 14.6 L17.4 9.7 L22.2 14.6" fill="none" stroke="#0f0f0f" stroke-width="1.5"/></svg>


<div class="abs" style="left:1450px;top:203px;width:27px;height:27px;background:#0f0f0f;border-radius:3px 0 0 3px"></div>
<svg class="abs" style="left:1450px;top:203px" width="27" height="27" viewBox="0 0 27 27"><circle cx="13.4" cy="13.5" r="9.5" fill="none" stroke="#fff" stroke-width="1.3"/><path d="M9 13.5 H18 M13.5 9 V18" stroke="#fff" stroke-width="1.3"/></svg>
<div class="abs" style="left:1478px;top:203px;width:62px;height:27px;background:#0f0f0f;border-radius:0 3px 3px 0"></div>
<div id="chp" class="abs sk2" style="left:1478px;top:208px;width:55px;text-align:right;font-size:15.5px;letter-spacing:-0.2px;line-height:18px;color:#fff">64.991</div>

<div class="abs" style="left:1478px;top:421px;width:62px;height:21.5px;background:#ff9800;border-radius:3px 3px 0 0"></div>
<div id="oep" class="abs" style="left:1478px;top:423.2px;width:55px;text-align:right;font-size:15.5px;letter-spacing:-0.2px;line-height:18px;color:#0f0f0f">60.483</div>
<div class="abs" style="left:1441px;top:442.5px;width:35.8px;height:20.5px;background:#0c9595;border-radius:3px 0 0 3px"></div>
<div id="wtil" class="abs sk2" style="left:1441px;top:443.5px;width:35.8px;text-align:center;font-size:15px;line-height:18px;color:#fff;letter-spacing:-0.6px">WTI</div>
<div class="abs" style="left:1478px;top:442.5px;width:62px;height:20.5px;background:#0c9595;border-radius:0 3px 3px 0"></div>
<div id="tep" class="abs sk2" style="left:1478px;top:444px;width:55px;text-align:right;font-size:15.5px;letter-spacing:-0.2px;line-height:18px;color:#fff">60.285</div>

<div class="abs" style="left:29px;top:727px;width:171px;height:30px;background:#0f0f0f;border-radius:0 0 3px 3px"></div>
<div id="ttl" class="abs sk2" style="left:39px;top:735.7px;font-size:14.5px;letter-spacing:0.05px;line-height:18px;color:#fff;white-space:nowrap">Mon 29 Sep '25&nbsp;&nbsp;&nbsp;00:00</div>

<svg class="abs" style="left:1500px;top:735px" width="24" height="20" viewBox="0 0 24 20"><path d="M7.2 2.2 H16.2 L20.7 10 L16.2 17.8 H7.2 L2.7 10 Z" fill="none" stroke="#0f0f0f" stroke-width="1.2"/><circle cx="11.7" cy="10" r="2.6" fill="none" stroke="#0f0f0f" stroke-width="1.2"/></svg>

<svg id="logo" class="abs" style="left:22px;top:690px" width="40" height="20" viewBox="0 0 40 20"><path d="M0 0.8 H14.9 V19.2 H7.5 V7.9 H0 Z" fill="#0f0f0f"/><circle cx="21.2" cy="4.4" r="3.7" fill="#0f0f0f"/><path d="M28.5 0.8 H37.4 L29.9 19.2 H21.4 Z" fill="#0f0f0f"/></svg>
<div id="logot" class="abs" style="left:67.5px;top:686.5px;font-size:25.5px;line-height:28px;font-weight:bold;color:#0f0f0f;letter-spacing:0.17px;white-space:nowrap">TradingView</div>

<div id="tb" class="abs sk" style="left:25px;top:776px;font-size:16.5px;line-height:20px;color:#0f0f0f;white-space:nowrap">
<span class="tbi" style="left:-0.5px">1D</span><span class="tbi" style="left:35px">5D</span><span class="tbi" style="left:70px">1M</span><span class="tbi" style="left:107px">3M</span><span class="tbi" style="left:143px">6M</span><span class="tbi" style="left:179px;letter-spacing:-0.6px">YTD</span><span class="tbi" style="left:225px">1Y</span><span class="tbi" style="left:260px">5Y</span><span class="tbi" style="left:293px;letter-spacing:1px">All</span>
</div>
<div class="abs" style="left:352px;top:772px;width:1px;height:27px;background:#e0e0e0"></div>
<svg class="abs" style="left:366px;top:771px" width="30" height="30" viewBox="0 0 30 30"><path d="M11.2 2 V6.5 M20 2 V6.5 M4.4 13 V6.8 Q4.4 4.8 6.4 4.8 H24.4 Q26.4 4.8 26.4 6.8 V21.1 Q26.4 23.1 24.4 23.1 H15.7 M4.4 10 H26.4 M3 20 H12.4 M8.5 15.5 L12.8 20 L8.5 24.5" fill="none" stroke="#1a1a1a" stroke-width="1.3"/></svg>
<div id="clock" class="abs sk" style="left:1426.5px;top:776px;font-size:17px;line-height:20px;color:#0f0f0f;white-space:nowrap">00:31:47 UTC</div>

</div></body></html>
